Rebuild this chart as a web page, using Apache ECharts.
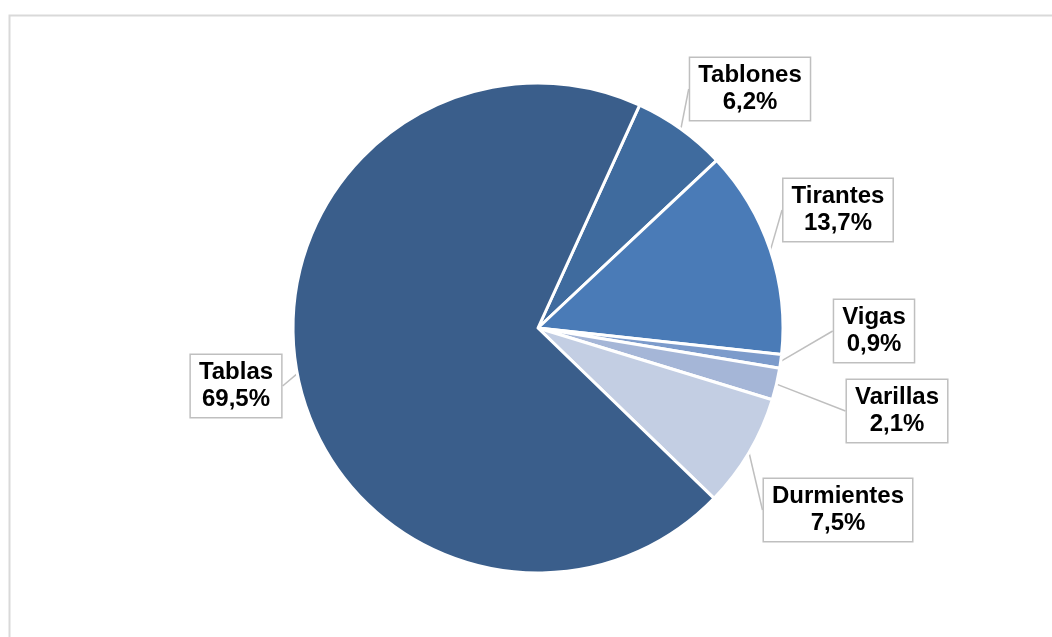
<!DOCTYPE html>
<html><head><meta charset="utf-8">
<script src="https://cdn.jsdelivr.net/npm/echarts@6/dist/echarts.min.js"></script>
<style>html,body{margin:0;padding:0;background:#fff}#c{width:1052px;height:637px}</style>
</head><body><div id="c"></div>
<script>
const categories = ['Tablones','Tirantes','Vigas','Varillas','Durmientes','Tablas'];
const values = [6.2, 13.7, 0.9, 2.1, 7.5, 69.5];
const colors = ['#3F6B9E','#4A7BB7','#7C9BCB','#A5B6D7','#C3CEE3','#3A5E8B'];
const labelCenters = [[750,89],[838,210],[874,331],[897,411],[838,510],[236,386]];

const chart = echarts.init(document.getElementById('c'), null, {renderer:'canvas'});
chart.setOption({
  animation:false,
  graphic:[{type:'rect',shape:{x:9.5,y:15.5,width:1100,height:700},style:{fill:'none',stroke:'#D9D9D9',lineWidth:2},silent:true}],
  series:[{
    type:'pie',
    center:[538,328],
    radius:245,
    startAngle:65.5,
    clockwise:true,
    data:categories.map((c,i)=>({name:c,value:values[i],itemStyle:{color:colors[i]}})),
    itemStyle:{borderColor:'#fff',borderWidth:3},
    label:{
      show:true,
      formatter:p=>p.name+'\n'+p.value.toFixed(1).replace('.',',')+'%',
      fontFamily:'Liberation Sans, Arial, sans-serif',
      fontWeight:'bold',
      fontSize:24,
      lineHeight:27,
      color:'#000',
      align:'center',
      backgroundColor:'#fff',
      borderColor:'#BFBFBF',
      borderWidth:1.5,
      padding:[4,8,4,8]
    },
    labelLine:{show:true,length:1,length2:0,smooth:false,lineStyle:{color:'#BFBFBF',width:1.5}},
    labelLayout:function(p){
      const c = labelCenters[p.dataIndex];
      return {x:c[0], y:c[1], align:'center', verticalAlign:'middle'};
    }
  }]
});
</script></body></html>
